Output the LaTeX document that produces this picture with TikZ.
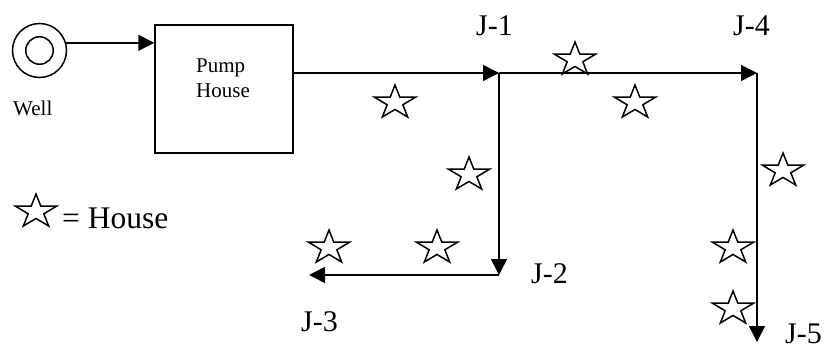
\documentclass[tikz,border=0pt]{standalone}
\usepackage{fontspec}
\setmainfont{Liberation Serif}
\usetikzlibrary{arrows.meta}
\tikzset{
  pipe/.style={line width=1.5pt,-{Triangle[length=16pt,width=16pt]},shorten >=0pt},
  outline/.style={draw,line width=1.5pt},
  small/.style={font=\fontsize{21}{21}\selectfont,inner sep=0pt,anchor=base west},
  large/.style={font=\fontsize{30}{30}\selectfont,inner sep=0pt,anchor=base west},
  housestar/.pic={\draw[line width=1.5pt,line join=miter]
    (0,-16)--(4.84,-3.78)--(20.5,-3.78)--(7.83,3.78)--(12.68,16)--(0,8.45)--(-12.68,16)--(-7.83,3.78)--(-20.5,-3.78)--(-4.84,-3.78)--cycle;}
}
\begin{document}
\begin{tikzpicture}[x=1pt,y=-1pt]
\useasboundingbox (0,0) rectangle (824,348);
\fill[white] (0,0) rectangle (824,348);
\node[outline,circle,minimum size=54pt,inner sep=0pt] (well) at (39.5,50.5) {};
\node[outline,circle,minimum size=27.5pt,inner sep=0pt] (wellcore) at (39.5,50.5) {};
\node[outline,rectangle,minimum width=138pt,minimum height=128pt,inner sep=0pt] (box) at (224,89) {};
\coordinate (J1) at (499,73);
\coordinate (J2) at (499,275);
\coordinate (J3) at (309,275);
\coordinate (J4) at (757,73);
\coordinate (J5) at (757,342);
\draw[pipe] (well.16) -- (well.16 -| box.west);
\draw[pipe] (box.east |- J1) -- (J1);
\draw[pipe] (J1) -- (J4);
\draw[pipe] (J1) -- (J2);
\draw[pipe] (J2) -- (J3);
\draw[pipe] (J4) -- (J5);
\node[small] (lwell) at (13,115) {Well};
\node[small] (lpump) at (196,72) {Pump};
\node[small] (lhouse) at (196,97) {House};
\node[large] (lj1) at (476,35) {J-1};
\node[large] (lj4) at (733,35) {J-4};
\node[large] (lj2) at (531,283) {J-2};
\node[large] (lj3) at (301,331) {J-3};
\node[large] (lj5) at (785,343.5) {J-5};
\node[large,font=\fontsize{31.5}{31.5}\selectfont] (legend) at (62,228) {= House};
\pic at (395,101) {housestar};
\pic at (575,58) {housestar};
\pic at (635,101) {housestar};
\pic at (469,173) {housestar};
\pic at (783,169) {housestar};
\pic at (329,246) {housestar};
\pic at (437,246) {housestar};
\pic at (36,210) {housestar};
\pic at (733,246) {housestar};
\pic at (733,307) {housestar};
\end{tikzpicture}
\end{document}
